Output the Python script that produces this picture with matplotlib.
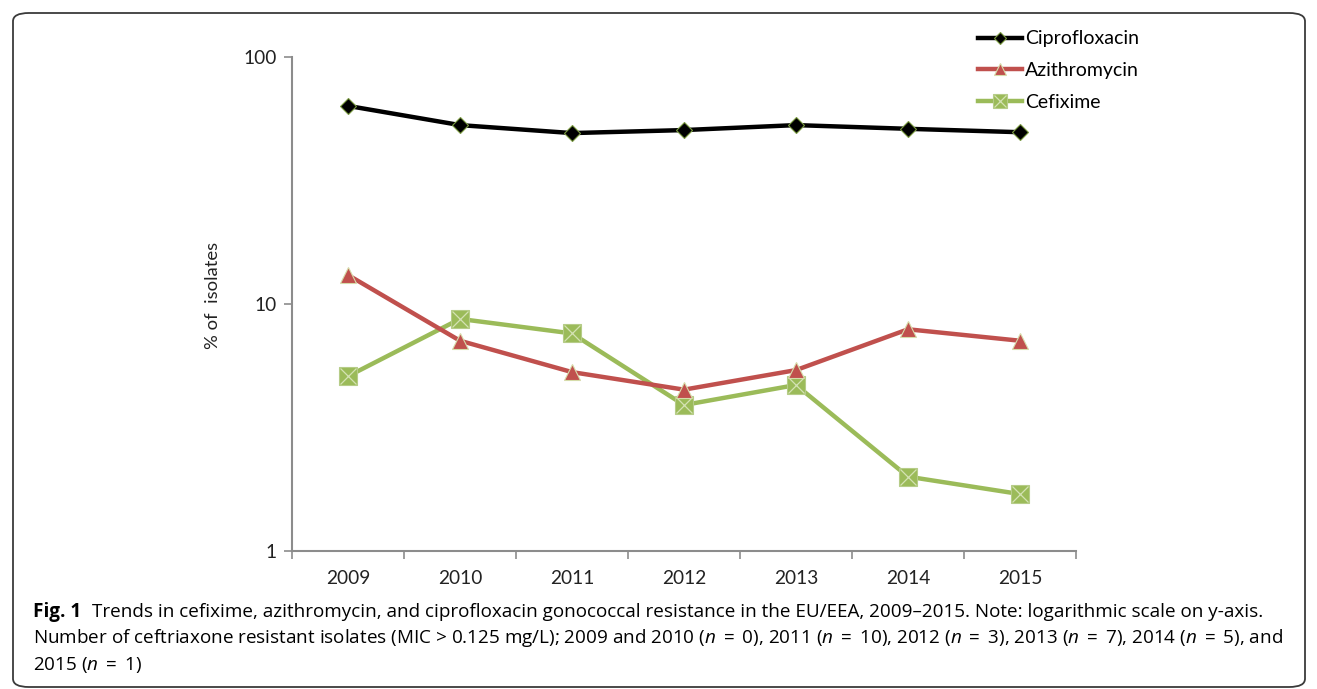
#
# Import section
#
import numpy as np
import matplotlib
matplotlib.use('Agg')
import matplotlib.pyplot as plt
from matplotlib.patches import FancyBboxPatch
from matplotlib.lines import Line2D
from matplotlib.legend_handler import HandlerTuple

#
# Data (% of isolates)
#
years = ['2009', '2010', '2011', '2012', '2013', '2014', '2015']
cipro = [63.4, 53.0, 49.2, 50.6, 53.0, 51.2, 49.6]
azithro = [13.1, 7.1, 5.3, 4.5, 5.4, 7.9, 7.1]
cefixime = [5.1, 8.7, 7.6, 3.9, 4.7, 2.0, 1.7]

#
# Colours / fonts
#
c_black = '#000000'
c_red = '#c0504d'
c_green = '#9bbb59'
axcol = '#8c8c8c'
chartfont = 'Lato'
capfont = 'Open Sans'
capsize = 13.6
ticksize = 13.8

matplotlib.rcParams['mathtext.fontset'] = 'custom'
matplotlib.rcParams['mathtext.rm'] = 'Open Sans'
matplotlib.rcParams['mathtext.it'] = 'Open Sans:italic'
matplotlib.rcParams['mathtext.bf'] = 'Open Sans:bold'

W, H = 1317, 689
fig = plt.figure(figsize=(W / 100, H / 100), dpi=100, facecolor='w')

# rounded frame round the whole figure panel
frame = FancyBboxPatch((13 / W, 1 - 687 / H), (1305 - 13) / W, (687 - 13) / H,
                       boxstyle='round,pad=0,rounding_size=0.012',
                       transform=fig.transFigure, fill=False,
                       edgecolor='#3a3a3a', linewidth=1.3)
fig.patches.append(frame)

ax = fig.add_axes([292 / W, 1 - 551 / H, (1076 - 292) / W, (551 - 57) / H])
x = np.arange(len(years))

ax.plot(x, cipro, color=c_black, lw=3.2, marker='D', ms=8,
        mfc=c_black, mec='#7a9a40', mew=0.8, zorder=5)
ax.plot(x, azithro, color=c_red, lw=3.2, marker='^', ms=11,
        mfc=c_red, mec='#d6dcaa', mew=0.8, zorder=4)
ax.plot(x, cefixime, color=c_green, lw=3.2, marker='s', ms=13,
        mfc=c_green, mec='#b6cc88', mew=0.8, zorder=3)
ax.plot(x, cefixime, ls='none', marker='x', ms=11,
        mec='#d4e2b4', mew=0.9, zorder=3.5)

ax.set_yscale('log')
ax.set_ylim(1, 100)
ax.set_xlim(-0.5, len(years) - 0.5)
ax.set_yticks([1, 10, 100])
ax.set_yticklabels(['1', '10', '100'])
ax.yaxis.set_minor_locator(matplotlib.ticker.NullLocator())
ax.set_xticks(x)
ax.set_xticklabels(years)
ax.set_xticks(np.arange(len(years) + 1) - 0.5, minor=True)
ax.tick_params(axis='x', which='major', length=0, pad=14)
ax.tick_params(axis='x', which='minor', length=6, width=1.2,
               color=axcol, direction='out')
ax.tick_params(axis='y', which='major', length=6, width=1.2,
               color=axcol, direction='out', pad=5)
for lab in ax.get_xticklabels() + ax.get_yticklabels():
    lab.set_fontfamily(chartfont)
    lab.set_fontsize(ticksize)
    lab.set_color('#222222')

for s in ['top', 'right']:
    ax.spines[s].set_visible(False)
for s in ['left', 'bottom']:
    ax.spines[s].set_color(axcol)
    ax.spines[s].set_linewidth(1.5)

fig.text(213 / W, 1 - 295 / H, '% of  isolates', rotation=90,
         ha='center', va='center', fontsize=13.3, family=chartfont,
         color='#222222')

#
# Legend
#
h1 = Line2D([], [], color=c_black, lw=3.2, marker='D', ms=6,
            mfc=c_black, mec='#7a9a40', mew=0.8)
h2 = Line2D([], [], color=c_red, lw=3.2, marker='^', ms=9,
            mfc=c_red, mec='#d6dcaa', mew=0.8)
h3a = Line2D([], [], color=c_green, lw=3.2, marker='s', ms=10,
             mfc=c_green, mec='#b6cc88', mew=0.8)
h3b = Line2D([], [], ls='none', marker='x', ms=8, mec='#d4e2b4', mew=0.9)
leg = fig.legend([h1, h2, (h3a, h3b)],
                 ['Ciprofloxacin', 'Azithromycin', 'Cefixime'],
                 handler_map={tuple: HandlerTuple(ndivide=1)},
                 loc='upper left', bbox_to_anchor=(960 / W, 1 - 13 / H),
                 frameon=False, handlelength=2.3, handletextpad=0.15,
                 labelspacing=0.75,
                 prop={'family': chartfont, 'size': 14})

#
# Caption
#
cap_y = [617, 643, 670]
cap_x = 33
fig.text(cap_x / W, 1 - cap_y[0] / H, 'Fig. 1', fontsize=capsize,
         family=capfont, fontweight='bold', va='baseline', ha='left')
fig.text((cap_x + 59) / W, 1 - cap_y[0] / H,
         'Trends in cefixime, azithromycin, and ciprofloxacin '
         'gonococcal resistance in the EU/EEA, 2009\u20132015. '
         'Note: logarithmic scale on y-axis.',
         fontsize=capsize, family=capfont, va='baseline', ha='left')
eq = '\u2009 = \u2009'
fig.text(cap_x / W, 1 - cap_y[1] / H,
         'Number of ceftriaxone resistant isolates (MIC > 0.125 mg/L); '
         '2009 and 2010 ($\\it{n}$' + eq + '0), 2011 ($\\it{n}$' + eq + '10), '
         '2012 ($\\it{n}$' + eq + '3), 2013 ($\\it{n}$' + eq + '7), '
         '2014 ($\\it{n}$' + eq + '5), and',
         fontsize=capsize, family=capfont, va='baseline', ha='left')
fig.text(cap_x / W, 1 - cap_y[2] / H, '2015 ($\\it{n}$' + eq + '1)',
         fontsize=capsize, family=capfont, va='baseline', ha='left')

plt.savefig('out.png', dpi=100, facecolor='w')
